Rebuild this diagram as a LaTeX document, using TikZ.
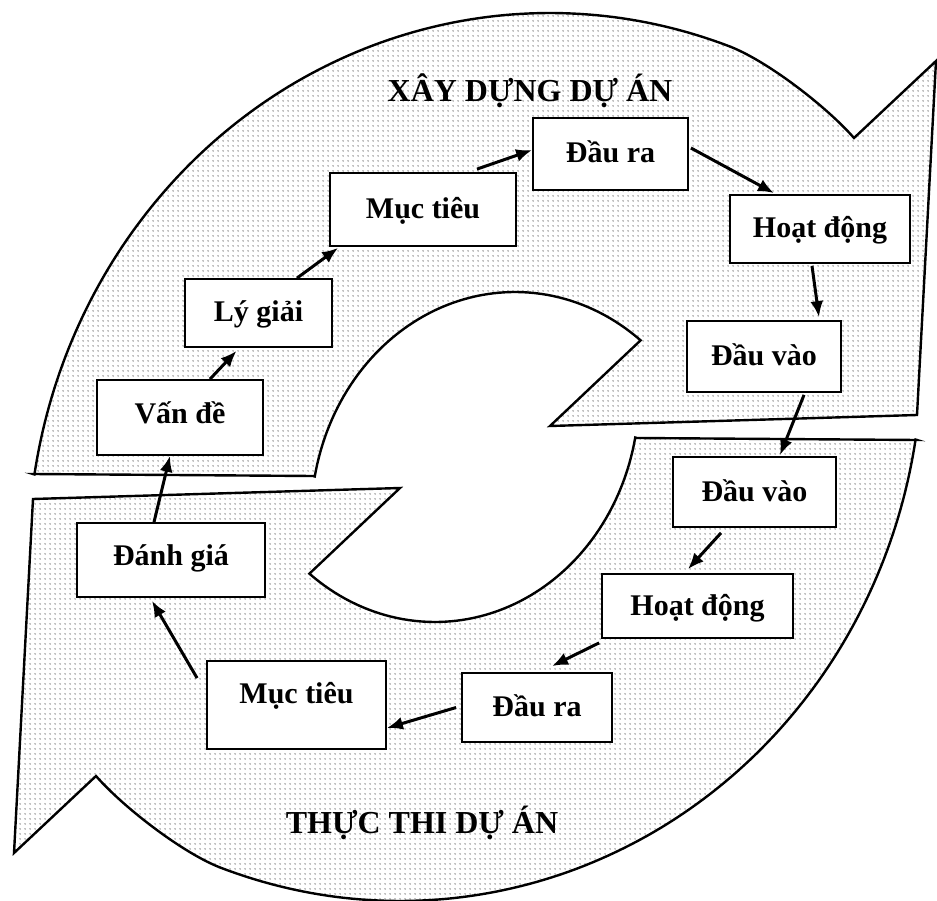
\documentclass[tikz,border=0pt]{standalone}
\usepackage{fontspec}
\setmainfont{Liberation Serif}
\usetikzlibrary{arrows.meta,patterns}

% fine dot screen used to fill the two curved bands
\pgfdeclarepatternformonly{finedots}{\pgfpointorigin}{\pgfpoint{4.5pt}{4.5pt}}{\pgfpoint{4.5pt}{4.5pt}}{%
  \pgfpathcircle{\pgfpoint{2.25pt}{2.25pt}}{0.6pt}\pgfusepath{fill}}

\begin{document}
\begin{tikzpicture}[x=1pt,y=-1pt,
  band/.style={pattern=finedots, pattern color=black, draw=black, line width=2.4pt, line join=miter},
  stagebox/.style={draw=black, fill=white, line width=1.8pt, inner sep=0pt,
    font=\fontsize{30}{31}\selectfont\bfseries, text height=18pt, text depth=0pt},
  flow/.style={line width=3pt, -{Latex[length=16pt,width=13pt]}},
  phase/.style={font=\fontsize{32}{34}\selectfont\bfseries, anchor=base, inner sep=0pt}]
\useasboundingbox (0,0) rectangle (937,901);

% the two halves of the cycle: the lower band is the upper one turned half way round
\foreach \ang in {0,180}{
  \begin{scope}[rotate around={\ang:(475,457)}]
    \draw[band] (33,474) -- (313,476)
      -- plot[domain=-169:-52, samples=70, variable=\t] ({515+204*cos(\t)},{520+228*sin(\t)})
      -- (550,426) -- (917,415) -- (936,61) -- (854,138)
      .. controls (826,106) and (766,60) .. (728.5,46)
      -- plot[domain=-70:-171, samples=110, variable=\t] ({550+522*cos(\t)},{560+547*sin(\t)})
      -- cycle;
  \end{scope}
}

% phase titles
\node[phase] (build) at (530,102) {XÂY DỰNG DỰ ÁN};
\node[phase] (run) at (422,833) {THỰC THI DỰ ÁN};

% stages of the project design
\node[stagebox, minimum width=166pt, minimum height=75pt, text depth=7pt] (vande) at (180,417.5) {Vấn đề};
\node[stagebox, minimum width=147pt, minimum height=68pt] (lygiai) at (258.5,313) {Lý giải};
\node[stagebox, minimum width=186pt, minimum height=73pt] (muctieuA) at (423,209.5) {Mục tiêu};
\node[stagebox, minimum width=155pt, minimum height=72pt] (dauraA) at (610.5,154) {Đầu ra};
\node[stagebox, minimum width=180pt, minimum height=68pt] (hoatdongA) at (820,229) {Hoạt động};
\node[stagebox, minimum width=154pt, minimum height=71pt] (dauvaoA) at (764,356.5) {Đầu vào};

% stages of the project implementation
\node[stagebox, minimum width=163pt, minimum height=70pt] (dauvaoB) at (754.5,492) {Đầu vào};
\node[stagebox, minimum width=191pt, minimum height=64pt] (hoatdongB) at (697.5,606) {Hoạt động};
\node[stagebox, minimum width=150pt, minimum height=69pt] (dauraB) at (537,707.5) {Đầu ra};
\node[stagebox, minimum width=179pt, minimum height=88pt, text depth=22pt] (muctieuB) at (296.5,705) {Mục tiêu};
\node[stagebox, minimum width=188pt, minimum height=74pt, text depth=8pt] (danhgia) at (171,560) {Đánh giá};

% flow between the stages
\draw[flow] ([xshift=30pt]vande.north) -- ([xshift=-22pt,yshift=-3pt]lygiai.south);
\draw[flow] ([xshift=38.5pt]lygiai.north) -- ([xshift=9pt,yshift=-1pt]muctieuA.south west);
\draw[flow] ([xshift=54pt,yshift=3pt]muctieuA.north) -- ([yshift=4pt]dauraA.west);
\draw[flow] ([xshift=2pt,yshift=6pt]dauraA.east) -- ([xshift=-46pt,yshift=1pt]hoatdongA.north);
\draw[flow] ([xshift=-8pt,yshift=-2pt]hoatdongA.south) -- ([xshift=55pt,yshift=3pt]dauvaoA.north);
\draw[flow] ([xshift=40pt,yshift=-2pt]dauvaoA.south) -- ([xshift=25.5pt,yshift=1pt]dauvaoB.north);
\draw[flow] ([xshift=-33.5pt,yshift=-5pt]dauvaoB.south) -- ([xshift=-9.5pt,yshift=4pt]hoatdongB.north);
\draw[flow] ([xshift=-2pt,yshift=-4pt]hoatdongB.south west) -- ([xshift=15pt,yshift=6pt]dauraB.north);
\draw[flow] ([xshift=-5pt]dauraB.west) -- ([yshift=-23pt]muctieuB.east);
\draw[flow] ([xshift=-9pt,yshift=-18pt]muctieuB.north west) -- ([xshift=-19pt,yshift=-3pt]danhgia.south);
\draw[flow] ([xshift=-17pt]danhgia.north) -- ([xshift=-10pt]vande.south);
\end{tikzpicture}
\end{document}
